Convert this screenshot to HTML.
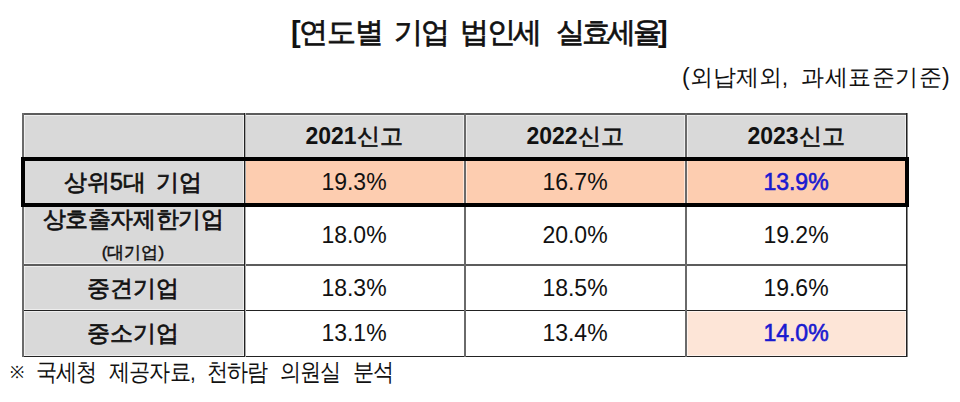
<!DOCTYPE html>
<html><head><meta charset="utf-8">
<style>
html,body{margin:0;padding:0;background:#fff;}
body{width:960px;height:402px;position:relative;overflow:hidden;font-family:"Liberation Sans",sans-serif;color:#111;}
.a{position:absolute;}
.t{position:absolute;white-space:nowrap;line-height:1;}
.g{background:#d9d9d9;}
.p{background:#fdcdb0;}
.lp{background:#fde5d7;}
.hw{position:absolute;background:rgba(255,255,255,.55);}
.c{position:absolute;display:flex;align-items:center;justify-content:center;white-space:nowrap;line-height:1;}
.hd{font-size:23px;font-weight:normal;-webkit-text-stroke:0.65px #111;}
.lb{font-size:23px;font-weight:normal;-webkit-text-stroke:0.7px #111;}
.num{font-size:23px;}
.ti{font-size:29px;font-weight:normal;-webkit-text-stroke:0.7px #111;letter-spacing:-2.5px;}
.su{font-size:23px;letter-spacing:0.5px;}
.fo{font-size:23.5px;letter-spacing:-1px;transform:scaleX(0.88);transform-origin:0 0;}
.dg{font-weight:bold;-webkit-text-stroke:0;}
.blue{color:#1a1ad0;font-weight:normal;-webkit-text-stroke:0.6px #1a1ad0;}
</style></head><body>

<div class="t ti" style="left:291px;top:18px;letter-spacing:-1.2px;"><span class="dg">[</span>연도별</div>
<div class="t ti" style="left:394px;top:18px;">기업</div>
<div class="t ti" style="left:460px;top:18px;">법인세</div>
<div class="t ti" style="left:556px;top:18px;letter-spacing:-3.5px;">실효세율<span class="dg">]</span></div>
<div class="t su" style="left:682px;top:66px;letter-spacing:0px;">(외납제외,</div>
<div class="t su" style="left:801px;top:66px;">과세표준기준)</div>

<!-- backgrounds -->
<div class="a g" style="left:22px;top:113px;width:886px;height:45px;"></div>
<div class="a g" style="left:22px;top:158px;width:222px;height:198px;"></div>
<div class="a p" style="left:244px;top:158px;width:663px;height:46px;"></div>
<div class="a lp" style="left:686px;top:310px;width:221px;height:46px;"></div>

<!-- halos -->
<div class="hw" style="left:22px;top:112px;width:886px;height:4px;"></div>
<div class="hw" style="left:22px;top:263px;width:886px;height:4px;"></div>
<div class="hw" style="left:22px;top:309px;width:886px;height:3px;"></div>
<div class="hw" style="left:22px;top:355px;width:886px;height:3px;"></div>
<div class="hw" style="left:21px;top:113px;width:4px;height:244px;"></div>
<div class="hw" style="left:243px;top:113px;width:3px;height:244px;"></div>
<div class="hw" style="left:463px;top:113px;width:4px;height:244px;"></div>
<div class="hw" style="left:684px;top:113px;width:4px;height:244px;"></div>
<div class="hw" style="left:905px;top:113px;width:3px;height:244px;"></div>

<!-- grid lines -->
<div class="a" style="left:22px;top:113px;width:886px;height:2px;background:#5c5c5c;"></div>
<div class="a" style="left:22px;top:264px;width:886px;height:2px;background:#5c5c5c;"></div>
<div class="a" style="left:22px;top:310px;width:886px;height:1px;background:#222;"></div>
<div class="a" style="left:22px;top:356px;width:886px;height:1px;background:#222;"></div>
<div class="a" style="left:22px;top:113px;width:2px;height:244px;background:#6a6a6a;"></div>
<div class="a" style="left:244px;top:113px;width:1px;height:244px;background:#222;"></div>
<div class="a" style="left:245px;top:113px;width:1px;height:244px;background:#aaa;"></div>
<div class="a" style="left:464px;top:113px;width:2px;height:244px;background:#6a6a6a;"></div>
<div class="a" style="left:685px;top:113px;width:2px;height:244px;background:#6a6a6a;"></div>
<div class="a" style="left:906px;top:113px;width:1px;height:244px;background:#222;"></div>
<div class="a" style="left:907px;top:113px;width:1px;height:244px;background:#888;"></div>

<!-- thick box -->
<div class="a" style="left:21px;top:157px;width:880px;height:42px;border:4px solid #000;"></div>

<!-- header -->
<div class="c hd" style="left:244px;top:114px;width:220px;height:44px;"><span class="dg">2021</span>신고</div>
<div class="c hd" style="left:464px;top:114px;width:222px;height:44px;"><span class="dg">2022</span>신고</div>
<div class="c hd" style="left:686px;top:114px;width:220px;height:44px;"><span class="dg">2023</span>신고</div>

<!-- row1 -->
<div class="t lb" style="left:64px;top:171px;">상위5대</div>
<div class="t lb" style="left:156px;top:171px;">기업</div>
<div class="c num" style="left:244px;top:160px;width:220px;height:45px;">19.3%</div>
<div class="c num" style="left:464px;top:160px;width:222px;height:45px;">16.7%</div>
<div class="c num blue" style="left:686px;top:160px;width:220px;height:45px;">13.9%</div>

<!-- row2 -->
<div class="t lb" style="left:22px;width:222px;text-align:center;top:207.5px;letter-spacing:-0.4px;">상호출자제한기업</div>
<div class="t" style="left:22px;width:222px;text-align:center;top:244px;font-size:17px;font-weight:normal;-webkit-text-stroke:0.45px #111;">(대기업)</div>
<div class="c num" style="left:244px;top:204px;width:220px;height:62px;">18.0%</div>
<div class="c num" style="left:464px;top:204px;width:222px;height:62px;">20.0%</div>
<div class="c num" style="left:686px;top:204px;width:220px;height:62px;">19.2%</div>

<!-- row3 -->
<div class="c lb" style="left:22px;top:266px;width:222px;height:45px;">중견기업</div>
<div class="c num" style="left:244px;top:266px;width:220px;height:45px;">18.3%</div>
<div class="c num" style="left:464px;top:266px;width:222px;height:45px;">18.5%</div>
<div class="c num" style="left:686px;top:266px;width:220px;height:45px;">19.6%</div>

<!-- row4 -->
<div class="c lb" style="left:22px;top:310px;width:222px;height:46px;">중소기업</div>
<div class="c num" style="left:244px;top:310px;width:220px;height:46px;">13.1%</div>
<div class="c num" style="left:464px;top:310px;width:222px;height:46px;">13.4%</div>
<div class="c num blue" style="left:686px;top:310px;width:220px;height:46px;">14.0%</div>

<div class="t fo" style="left:10px;top:364px;font-size:17px;letter-spacing:0;transform:none;">※</div>
<div class="t fo" style="left:36px;top:361px;">국세청</div>
<div class="t fo" style="left:109px;top:361px;">제공자료,</div>
<div class="t fo" style="left:207px;top:361px;">천하람</div>
<div class="t fo" style="left:279.5px;top:361px;">의원실</div>
<div class="t fo" style="left:352.7px;top:361px;">분석</div>
</body></html>
